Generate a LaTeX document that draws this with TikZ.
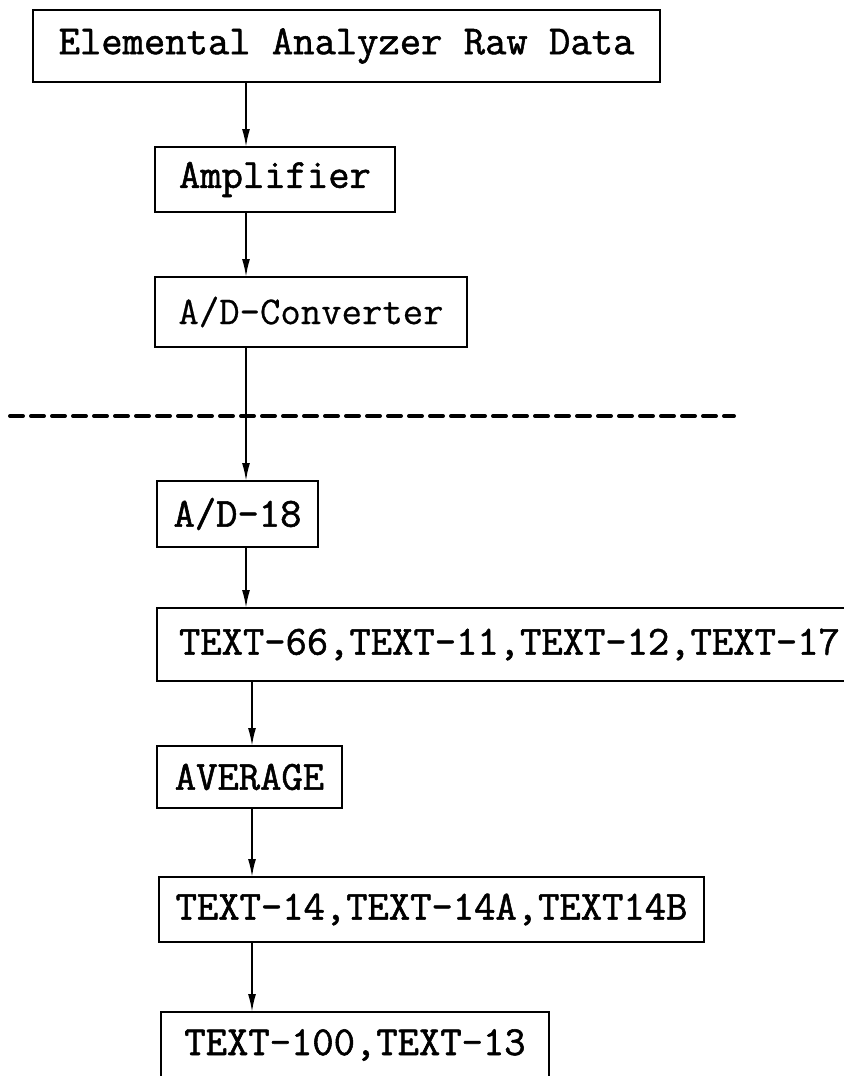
\documentclass[tikz,border=0pt]{standalone}
\usepackage{fontspec}
\newfontfamily\typer{Latin Modern Mono}[FakeBold=1.3]
\newfontfamily\typecond{Latin Modern Mono}[FakeBold=0.5]
\usetikzlibrary{arrows.meta,positioning}

\begin{document}
\begin{tikzpicture}[
    node distance=32.5pt,
    every node/.style={font=\typer\fontsize{20.7}{23}\selectfont},
    block/.style={rectangle, draw, line width=1.3pt, inner sep=0pt, outer sep=0pt, anchor=north west},
    arr/.style={-{Latex[length=9pt,width=4pt]}, line width=0.9pt},
    divider/.style={line width=2pt, dash pattern=on 6.5pt off 4pt, line cap=round}
]
    \useasboundingbox (0,0) rectangle (421.5pt,-538pt);
    \node[block, minimum width=313.5pt, minimum height=36pt] (raw) at (16.5pt,-5pt) {Elemental Analyzer Raw Data};
    \node[block, minimum width=120pt, minimum height=32.5pt, below=of raw.south west, anchor=north west, xshift=61pt] (amp) {Amplifier};
    \node[block, minimum width=156pt, minimum height=35pt, below=of amp.south west, anchor=north west, font=\typecond\fontsize{19.8}{22}\selectfont] (adc) {A/D-Converter};
    \node[block, minimum width=80.5pt, minimum height=33pt, below=67pt of adc.south west, anchor=north west, xshift=1pt] (ad18) {A/D-18};
    \node[block, inner xsep=11pt, minimum height=36.5pt, below=30.5pt of ad18.south west, anchor=north west] (txa) {TEXT-66,TEXT-11,TEXT-12,TEXT-17};
    \node[block, minimum width=92.5pt, minimum height=31pt, below=of txa.south west, anchor=north west] (avg) {AVERAGE};
    \node[block, minimum width=272.5pt, minimum height=32.5pt, below=34.5pt of avg.south west, anchor=north west, xshift=1pt] (txb) {TEXT-14,TEXT-14A,TEXT14B};
    \node[block, minimum width=194pt, minimum height=33pt, below=35pt of txb.south west, anchor=north west, xshift=1pt] (out) {TEXT-100,TEXT-13};

    % line the signal runs down
    \coordinate (spine) at (123pt,0);
    \coordinate (spinelow) at (126pt,0);
    % boundary between analyzer and computer
    \coordinate (cutL) at (5pt,-208pt);
    \coordinate (cutR) at (367pt,-208pt);
    \draw[divider] (cutL) -- (cutR);

    \draw[arr] (raw.south -| spine) -- (amp.north -| spine);
    \draw[arr] (amp.south -| spine) -- (adc.north -| spine);
    \draw[arr] (adc.south -| spine) -- (ad18.north -| spine);
    \draw[arr] (ad18.south -| spine) -- (txa.north -| spine);
    \draw[arr] (txa.south -| spinelow) -- (avg.north -| spinelow);
    \draw[arr] (avg.south -| spinelow) -- (txb.north -| spinelow);
    \draw[arr] (txb.south -| spinelow) -- (out.north -| spinelow);
\end{tikzpicture}
\end{document}
